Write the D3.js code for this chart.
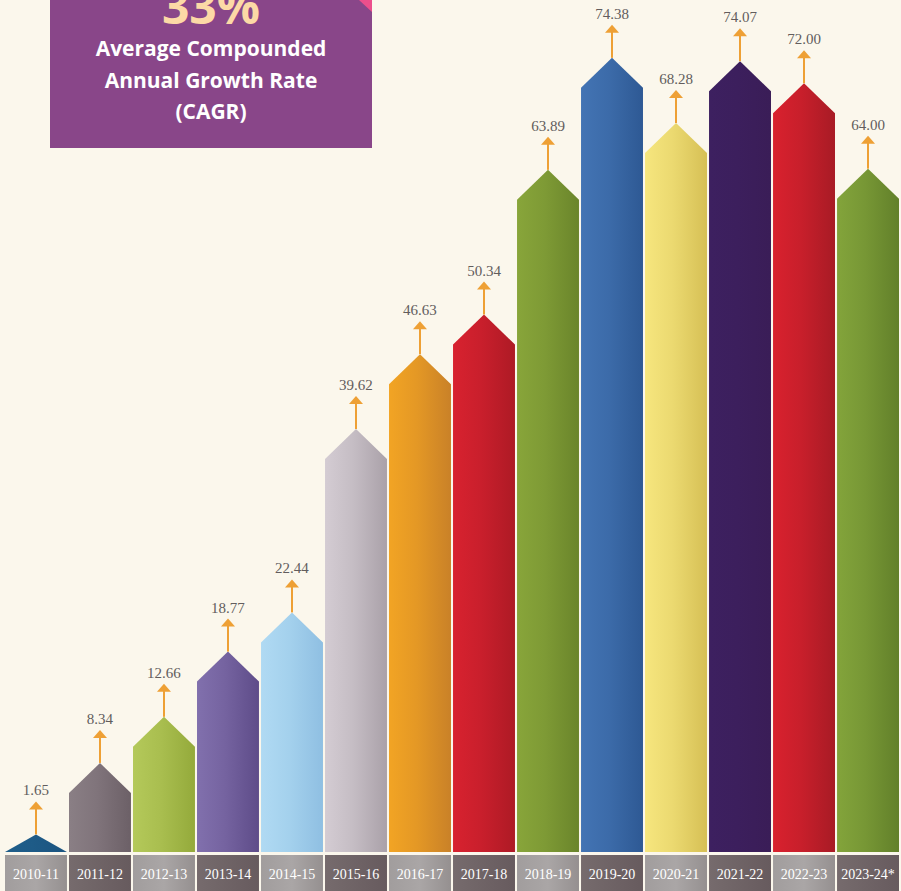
<!doctype html>
<html>
<head>
<meta charset="utf-8">
<style>
body{
  margin:0;
  background-color:#fbf7ec;
}
.val{
  font-size:15px;
  font-family:"Liberation Serif", serif;
  fill:#625d5d;
}
.cat{
  font-size:14px;
  font-family:"Liberation Serif", serif;
  fill:#ffffff;
}
.box-txt{
  font-family:"Open Sans", sans-serif;
  font-weight:700;
  fill:#ffffff;
}
</style>
<script src="https://d3js.org/d3.v7.min.js"></script>
</head>
<body>
<svg width="901" height="891"></svg>
<script>
var categories = ["2010-11","2011-12","2012-13","2013-14","2014-15","2015-16","2016-17",
                  "2017-18","2018-19","2019-20","2020-21","2021-22","2022-23","2023-24*"];
var values = [1.65, 8.34, 12.66, 18.77, 22.44, 39.62, 46.63, 50.34, 63.89, 74.38, 68.28, 74.07, 72.00, 64.00];
var valueLabels = ["1.65","8.34","12.66","18.77","22.44","39.62","46.63","50.34","63.89","74.38","68.28","74.07","72.00","64.00"];
// left (light) and right (dark) shade of each bar
var colorsLight = ["#1f5e8a","#8a7f85","#b4c95a","#8170ad","#b0daf3","#d4ccd3","#f2a424","#d8222f",
                   "#88a53a","#4374b4","#f6e67e","#3d2060","#d9212e","#83a43b"];
var colorsDark  = ["#1b5480","#6c6067","#94aa3b","#5e4c89","#8fbfe2","#aaa1a9","#c98128","#ae1a25",
                   "#6a852b","#2e5994","#d6c055","#3a1d57","#a81b25","#62802a"];

var svg = d3.select("svg"),
    width = +svg.attr("width"),
    height = +svg.attr("height");

var baseY = 852;

var x = d3.scaleBand()
    .domain(categories)
    .range([5, 899])
    .paddingInner(0.032)
    .paddingOuter(0);

var y = d3.scaleLinear()
    .domain([0, 79.8])
    .range([baseY, 0]);

var defs = svg.append("defs");
categories.forEach(function(c, i){
  var gr = defs.append("linearGradient")
      .attr("id", "bar" + i)
      .attr("x1", "0").attr("x2", "1").attr("y1", "0").attr("y2", "0");
  gr.append("stop").attr("offset", "0").attr("stop-color", colorsLight[i]);
  gr.append("stop").attr("offset", "0.45").attr("stop-color", d3.interpolateRgb(colorsLight[i], colorsDark[i])(0.35));
  gr.append("stop").attr("offset", "1").attr("stop-color", colorsDark[i]);
});
var cellLight = defs.append("linearGradient").attr("id", "cellLight")
    .attr("x1", "0").attr("x2", "1").attr("y1", "0").attr("y2", "0");
cellLight.append("stop").attr("offset", "0").attr("stop-color", "#a19d9d");
cellLight.append("stop").attr("offset", "0.5").attr("stop-color", "#aaa6a6");
cellLight.append("stop").attr("offset", "1").attr("stop-color", "#959090");
var cellDark = defs.append("linearGradient").attr("id", "cellDark")
    .attr("x1", "0").attr("x2", "1").attr("y1", "0").attr("y2", "0");
cellDark.append("stop").attr("offset", "0").attr("stop-color", "#766b6d");
cellDark.append("stop").attr("offset", "1").attr("stop-color", "#675b5e");

var peak = 30;

function barPath(i){
  var x0 = x(categories[i]), w = x.bandwidth();
  var tip = y(values[i]);
  var sh = tip + peak;
  if (sh >= baseY) {
    return "M" + x0 + "," + baseY + "L" + (x0 + w / 2) + "," + tip + "L" + (x0 + w) + "," + baseY + "Z";
  }
  return "M" + x0 + "," + baseY + "L" + x0 + "," + sh + "L" + (x0 + w / 2) + "," + tip +
         "L" + (x0 + w) + "," + sh + "L" + (x0 + w) + "," + baseY + "Z";
}

var g = svg.selectAll(".bar")
    .data(values)
    .enter()
    .append("g")
    .attr("class", "bar");

g.append("path")
    .attr("d", function(d, i){ return barPath(i); })
    .style("fill", function(d, i){ return "url(#bar" + i + ")"; });

// arrows
g.append("line")
    .attr("x1", function(d, i){ return x(categories[i]) + x.bandwidth() / 2; })
    .attr("x2", function(d, i){ return x(categories[i]) + x.bandwidth() / 2; })
    .attr("y1", function(d){ return y(d); })
    .attr("y2", function(d){ return y(d) - 26; })
    .style("stroke", "#eea035")
    .style("stroke-width", 2);

g.append("path")
    .attr("d", function(d, i){
      var cx = x(categories[i]) + x.bandwidth() / 2, t = y(d);
      return "M" + (cx - 7) + "," + (t - 25) + "L" + cx + "," + (t - 33) + "L" + (cx + 7) + "," + (t - 25) + "Z";
    })
    .style("fill", "#eea035");

g.append("text")
    .attr("class", "val")
    .attr("text-anchor", "middle")
    .attr("x", function(d, i){ return x(categories[i]) + x.bandwidth() / 2; })
    .attr("y", function(d){ return y(d) - 39; })
    .text(function(d, i){ return valueLabels[i]; });

// category cells
var cells = svg.selectAll(".cell")
    .data(categories)
    .enter()
    .append("g")
    .attr("class", "cell");

cells.append("rect")
    .attr("x", function(d){ return x(d); })
    .attr("y", 855)
    .attr("width", x.bandwidth())
    .attr("height", 40)
    .style("fill", function(d, i){ return i % 2 == 0 ? "url(#cellLight)" : "url(#cellDark)"; });

cells.append("text")
    .attr("class", "cat")
    .attr("text-anchor", "middle")
    .attr("x", function(d){ return x(d) + x.bandwidth() / 2; })
    .attr("y", 879)
    .text(function(d){ return d; });

// CAGR box
var box = svg.append("g");
box.append("rect")
    .attr("x", 50).attr("y", 0)
    .attr("width", 322).attr("height", 148)
    .style("fill", "#894689");
box.append("path")
    .attr("d", "M359,0L372,0L372,12Z")
    .style("fill", "#ec4f8c");
box.append("text")
    .attr("class", "box-txt")
    .attr("x", 211).attr("y", 24)
    .attr("text-anchor", "middle")
    .style("font-size", "48px")
    .style("fill", "#fcd9a6")
    .text("33%");
box.append("text")
    .attr("class", "box-txt")
    .attr("x", 211).attr("y", 56)
    .attr("text-anchor", "middle")
    .style("font-size", "21px")
    .text("Average Compounded");
box.append("text")
    .attr("class", "box-txt")
    .attr("x", 211).attr("y", 88)
    .attr("text-anchor", "middle")
    .style("font-size", "21px")
    .text("Annual Growth Rate");
box.append("text")
    .attr("class", "box-txt")
    .attr("x", 211).attr("y", 119)
    .attr("text-anchor", "middle")
    .style("font-size", "21px")
    .text("(CAGR)");
</script>
</body>
</html>
